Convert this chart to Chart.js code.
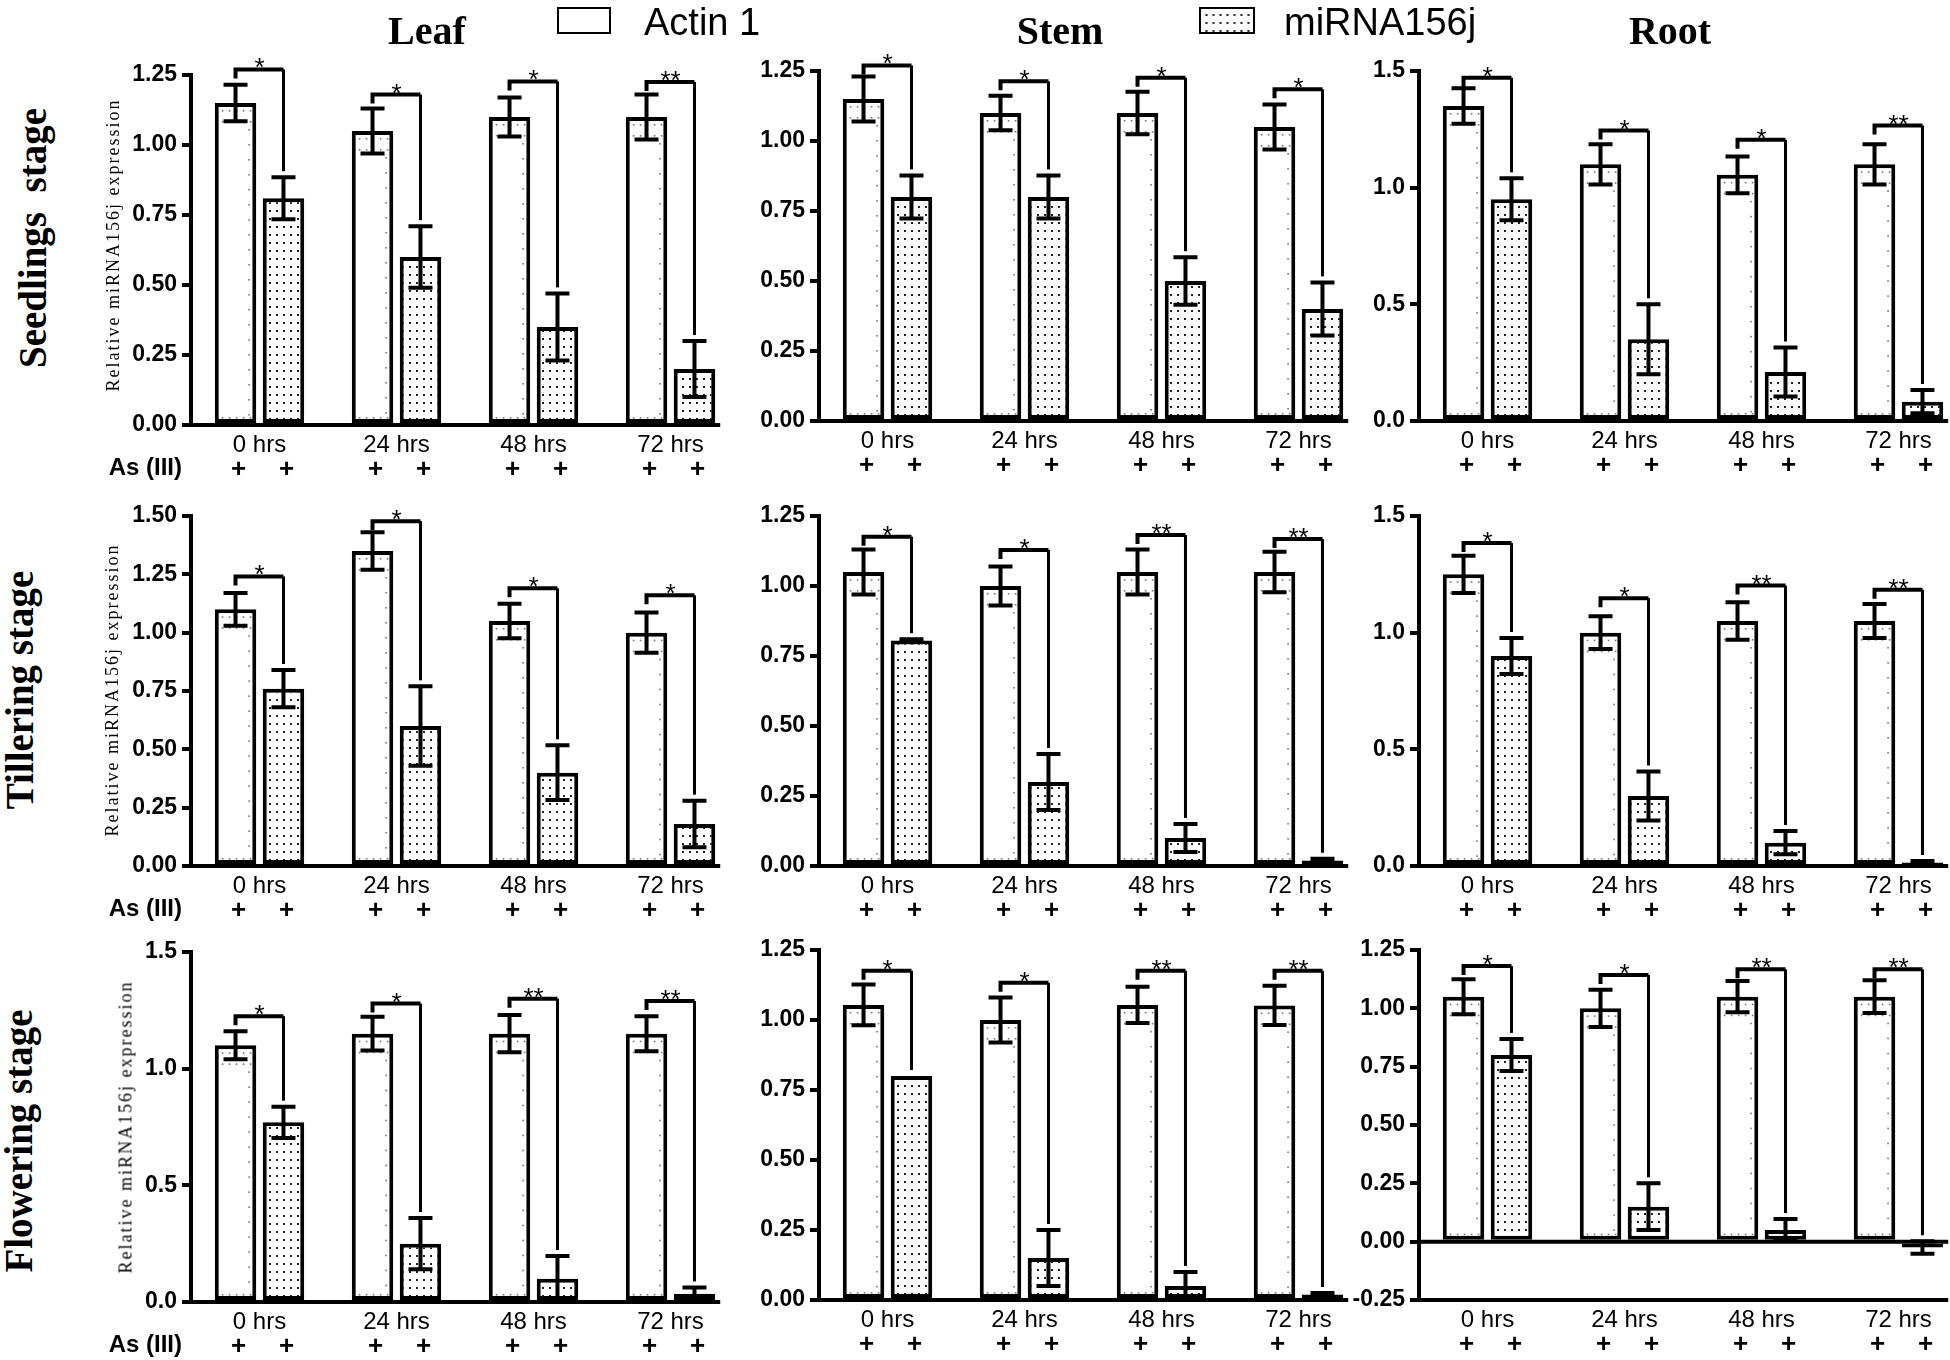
<!DOCTYPE html>
<html><head><meta charset="utf-8">
<script src="https://cdn.jsdelivr.net/npm/chart.js@4.4.1/dist/chart.umd.min.js"></script>
<style>
html,body{margin:0;padding:0;background:#fff;}
body{width:1950px;height:1360px;overflow:hidden;position:relative;}
canvas{position:absolute;}
.lbl{position:absolute;white-space:pre;line-height:1;color:#000;}
.title{font:bold 40px "Liberation Serif",serif;transform:translateX(-50%);}
.row{font:bold 39px "Liberation Serif",serif;transform:translate(-50%,-50%) rotate(-90deg);}
.ytitle{font:18px "Liberation Serif",serif;letter-spacing:2px;transform:translate(-50%,-50%) rotate(-90deg);}
.leg{font:38px "Liberation Sans",Arial,sans-serif;}
.box{position:absolute;box-sizing:border-box;border:2.5px solid #000;background:#fff;}
.dots{background-image:radial-gradient(circle,#333 1px,transparent 1.3px);background-size:7px 8px;background-position:2px 2px;}
</style></head><body>
<script>
// ---------- data ----------
const categories = ['0 hrs', '24 hrs', '48 hrs', '72 hrs'];
const seriesNames = ['Actin 1', 'miRNA156j'];
const organs = ['Leaf', 'Stem', 'Root'];
const stages = ['Seedlings  stage', 'Tillering stage', 'Flowering stage'];
const yAxisTitle = 'Relative miRNA156j expression';
const treatmentLabel = 'As (III)';
const treatmentMark = '+';

// Seedlings stage
const leafSeedActin = [1.15, 1.05, 1.10, 1.10];
const leafSeedActinErr = [0.065, 0.08, 0.07, 0.08];
const leafSeedMir = [0.81, 0.60, 0.35, 0.20];
const leafSeedMirErr = [0.075, 0.11, 0.12, 0.10];
const leafSeedBracket = [1.27, 1.18, 1.227, 1.225];
const leafSeedStars = ['*', '*', '*', '**'];

const stemSeedActin = [1.15, 1.10, 1.10, 1.05];
const stemSeedActinErr = [0.08, 0.062, 0.076, 0.08];
const stemSeedMir = [0.80, 0.80, 0.50, 0.40];
const stemSeedMirErr = [0.077, 0.077, 0.085, 0.095];
const stemSeedBracket = [1.27, 1.213, 1.226, 1.185];
const stemSeedStars = ['*', '*', '*', '*'];

const rootSeedActin = [1.35, 1.10, 1.055, 1.10];
const rootSeedActinErr = [0.076, 0.086, 0.079, 0.086];
const rootSeedMir = [0.95, 0.35, 0.21, 0.083];
const rootSeedMirErr = [0.09, 0.15, 0.105, 0.05];
const rootSeedBracket = [1.471, 1.245, 1.205, 1.266];
const rootSeedStars = ['*', '*', '*', '**'];

// Tillering stage
const leafTillActin = [1.10, 1.35, 1.05, 1.00];
const leafTillActinErr = [0.07, 0.08, 0.074, 0.086];
const leafTillMir = [0.76, 0.60, 0.40, 0.18];
const leafTillMirErr = [0.08, 0.17, 0.117, 0.10];
const leafTillBracket = [1.241, 1.478, 1.19, 1.16];
const leafTillStars = ['*', '*', '*', '*'];

const stemTillActin = [1.05, 1.00, 1.05, 1.05];
const stemTillActinErr = [0.08, 0.07, 0.08, 0.072];
const stemTillMir = [0.805, 0.30, 0.10, 0.02];
const stemTillMirErr = [0.005, 0.10, 0.05, 0.006];
const stemTillBracket = [1.176, 1.129, 1.182, 1.168];
const stemTillStars = ['*', '*', '**', '**'];

const rootTillActin = [1.25, 1.00, 1.05, 1.05];
const rootTillActinErr = [0.08, 0.07, 0.08, 0.073];
const rootTillMir = [0.90, 0.30, 0.10, 0.015];
const rootTillMirErr = [0.077, 0.105, 0.05, 0.006];
const rootTillBracket = [1.384, 1.148, 1.202, 1.184];
const rootTillStars = ['*', '*', '**', '**'];

// Flowering stage
const leafFlowActin = [1.10, 1.15, 1.15, 1.15];
const leafFlowActinErr = [0.06, 0.072, 0.08, 0.075];
const leafFlowMir = [0.77, 0.25, 0.10, 0.035];
const leafFlowMirErr = [0.067, 0.11, 0.097, 0.027];
const leafFlowBracket = [1.225, 1.279, 1.30, 1.29];
const leafFlowStars = ['*', '*', '**', '**'];

const stemFlowActin = [1.054, 1.00, 1.054, 1.052];
const stemFlowActinErr = [0.073, 0.08, 0.065, 0.07];
const stemFlowMir = [0.80, 0.15, 0.05, 0.02];
const stemFlowMirErr = [0, 0.10, 0.05, 0.005];
const stemFlowBracket = [1.176, 1.133, 1.176, 1.176];
const stemFlowStars = ['*', '*', '**', '**'];

const rootFlowActin = [1.05, 1.00, 1.05, 1.05];
const rootFlowActinErr = [0.075, 0.08, 0.067, 0.07];
const rootFlowMir = [0.80, 0.15, 0.05, -0.025];
const rootFlowMirErr = [0.069, 0.10, 0.047, 0.027];
const rootFlowBracket = [1.181, 1.143, 1.167, 1.167];
const rootFlowStars = ['*', '*', '**', '**'];

// y-axis ranges per panel: [min, max, step, decimals]
const leafSeedAxis = [0, 1.25, 0.25, 2];
const stemSeedAxis = [0, 1.25, 0.25, 2];
const rootSeedAxis = [0, 1.5, 0.5, 1];
const leafTillAxis = [0, 1.5, 0.25, 2];
const stemTillAxis = [0, 1.25, 0.25, 2];
const rootTillAxis = [0, 1.5, 0.5, 1];
const leafFlowAxis = [0, 1.5, 0.5, 1];
const stemFlowAxis = [0, 1.25, 0.25, 2];
const rootFlowAxis = [-0.25, 1.25, 0.25, 2];

// ---------- layout ----------
const YW = 100, SLOT = 137, PADT = 60, PLOTH = 350, XH = 70;
const colAxisX = [191, 819, 1419];
const panelTop = [[75, 71, 71], [516, 516, 516], [952, 950, 950]];

const panelData = [
  [[leafSeedActin, leafSeedActinErr, leafSeedMir, leafSeedMirErr, leafSeedBracket, leafSeedStars, leafSeedAxis],
   [stemSeedActin, stemSeedActinErr, stemSeedMir, stemSeedMirErr, stemSeedBracket, stemSeedStars, stemSeedAxis],
   [rootSeedActin, rootSeedActinErr, rootSeedMir, rootSeedMirErr, rootSeedBracket, rootSeedStars, rootSeedAxis]],
  [[leafTillActin, leafTillActinErr, leafTillMir, leafTillMirErr, leafTillBracket, leafTillStars, leafTillAxis],
   [stemTillActin, stemTillActinErr, stemTillMir, stemTillMirErr, stemTillBracket, stemTillStars, stemTillAxis],
   [rootTillActin, rootTillActinErr, rootTillMir, rootTillMirErr, rootTillBracket, rootTillStars, rootTillAxis]],
  [[leafFlowActin, leafFlowActinErr, leafFlowMir, leafFlowMirErr, leafFlowBracket, leafFlowStars, leafFlowAxis],
   [stemFlowActin, stemFlowActinErr, stemFlowMir, stemFlowMirErr, stemFlowBracket, stemFlowStars, stemFlowAxis],
   [rootFlowActin, rootFlowActinErr, rootFlowMir, rootFlowMirErr, rootFlowBracket, rootFlowStars, rootFlowAxis]]
];

function dotPattern() {
  const c = document.createElement('canvas');
  c.width = 7; c.height = 8;
  const g = c.getContext('2d');
  g.fillStyle = '#fff'; g.fillRect(0, 0, 7, 8);
  g.fillStyle = '#222'; g.fillRect(3, 3, 2, 2);
  return g.createPattern(c, 'repeat');
}

const decor = {
  id: 'decor',
  afterDatasetsDraw(chart) {
    const ctx = chart.ctx, ca = chart.chartArea, ys = chart.scales.y;
    const opt = chart.options.plugins.decor;
    const dsA = chart.data.datasets[0], dsM = chart.data.datasets[1];
    const mA = chart.getDatasetMeta(0).data, mM = chart.getDatasetMeta(1).data;
    ctx.save();
    // faint dotted texture of the Actin bars
    ctx.fillStyle = '#777';
    mA.forEach(b => {
      const l = b.x - b.width / 2, r = b.x + b.width / 2;
      const t = Math.min(b.y, b.base), bt = Math.max(b.y, b.base);
      for (let yy = t + 26; yy < bt - 8; yy += 15) ctx.fillRect(r - 8, yy, 1.6, 1.6);
      for (let xx = l + 7; xx < r - 5; xx += 7) {
        ctx.fillRect(xx, t + 7, 1.6, 1.6);
        ctx.fillRect(xx, t + 18, 1.6, 1.6);
        ctx.fillRect(xx, bt - 6, 1.6, 1.6);
      }
    });
    ctx.strokeStyle = '#000'; ctx.fillStyle = '#000';
    ctx.lineCap = 'butt'; ctx.lineJoin = 'miter';
    // error bars
    ctx.lineWidth = 4;
    [[mA, dsA], [mM, dsM]].forEach(([ms, ds]) => {
      ms.forEach((b, i) => {
        const e = ds.errors[i], v = ds.data[i];
        if (!e) return;
        const yt = ys.getPixelForValue(v + e), yb = ys.getPixelForValue(v - e);
        ctx.beginPath();
        ctx.moveTo(b.x, yt); ctx.lineTo(b.x, yb);
        ctx.moveTo(b.x - 12, yt); ctx.lineTo(b.x + 12, yt);
        ctx.moveTo(b.x - 12, yb); ctx.lineTo(b.x + 12, yb);
        ctx.stroke();
      });
    });
    // significance brackets
    opt.brackets.forEach((bv, i) => {
      const xa = mA[i].x, xm = mM[i].x, yb = ys.getPixelForValue(bv);
      const topM = Math.max(dsM.data[i] + dsM.errors[i], 0);
      const yr = ys.getPixelForValue(topM) - 6;
      ctx.lineWidth = 4;
      ctx.beginPath();
      ctx.moveTo(xa, yb + 9); ctx.lineTo(xa, yb); ctx.lineTo(xm, yb);
      ctx.stroke();
      ctx.lineWidth = 3;
      ctx.beginPath();
      ctx.moveTo(xm, yb); ctx.lineTo(xm, yr);
      ctx.stroke();
      ctx.font = '26px "Liberation Sans", Arial, sans-serif';
      ctx.textAlign = 'center'; ctx.textBaseline = 'alphabetic';
      ctx.fillText(opt.stars[i], (xa + xm) / 2, yb + 7);
    });
    // x axis line(s)
    const last = mM[mM.length - 1];
    const xr = last.x + last.width / 2 + 5;
    ctx.lineWidth = 4;
    ctx.beginPath();
    ctx.moveTo(ca.left - 2, ca.bottom); ctx.lineTo(xr, ca.bottom);
    if (ys.min < 0) {
      const z = ys.getPixelForValue(0);
      ctx.moveTo(ca.left, z); ctx.lineTo(xr, z);
    }
    ctx.stroke();
    // treatment row
    ctx.font = 'bold 26px "Liberation Sans", Arial, sans-serif';
    ctx.textAlign = 'center'; ctx.textBaseline = 'middle';
    [...mA, ...mM].forEach(b => ctx.fillText(treatmentMark, b.x + 3, ca.bottom + 45));
    if (opt.showAs) {
      ctx.font = 'bold 24px "Liberation Sans", Arial, sans-serif';
      ctx.textAlign = 'right';
      ctx.fillText(treatmentLabel, ca.left - 9, ca.bottom + 43);
    }
    ctx.restore();
  }
};

const pattern = dotPattern();

function makePanel(r, c) {
  const [actin, actinErr, mir, mirErr, brackets, stars, axis] = panelData[r][c];
  const [ymin, ymax, step, dec] = axis;
  const cv = document.createElement('canvas');
  cv.width = YW + 4 * SLOT;
  cv.height = PADT + PLOTH + XH;
  cv.style.left = (colAxisX[c] - YW) + 'px';
  cv.style.top = (panelTop[r][c] - PADT) + 'px';
  document.body.appendChild(cv);
  new Chart(cv, {
    type: 'bar',
    data: {
      labels: categories,
      datasets: [
        { label: seriesNames[0], data: actin, errors: actinErr, backgroundColor: '#fff',
          borderColor: '#000', borderWidth: 4, borderSkipped: false },
        { label: seriesNames[1], data: mir, errors: mirErr, backgroundColor: pattern,
          borderColor: '#000', borderWidth: 4, borderSkipped: false }
      ]
    },
    options: {
      responsive: false, animation: false, devicePixelRatio: 1,
      datasets: { bar: { categoryPercentage: 0.70, barPercentage: 0.865 } },
      layout: { padding: { top: PADT, left: 0, right: 0, bottom: 0 } },
      plugins: {
        legend: { display: false }, tooltip: { enabled: false },
        decor: { brackets: brackets, stars: stars, showAs: c === 0 }
      },
      scales: {
        x: {
          type: 'category', offset: true,
          grid: { display: false, drawTicks: false },
          border: { display: false },
          ticks: { color: '#000', padding: 6, maxRotation: 0, autoSkip: false,
                   font: { family: '"Liberation Sans", Arial, sans-serif', size: 24 } },
          afterFit: s => { s.height = XH; }
        },
        y: {
          min: ymin, max: ymax,
          ticks: { stepSize: step, color: '#000', padding: 5,
                   font: { family: '"Liberation Sans", Arial, sans-serif', size: 23, weight: 'bold' },
                   callback: v => Number(v).toFixed(dec) },
          grid: { display: true, drawOnChartArea: false, drawTicks: true, tickLength: 9,
                  tickWidth: 4, tickColor: '#000', lineWidth: 4, color: '#000' },
          border: { display: true, width: 4, color: '#000' },
          afterFit: s => { s.width = YW; }
        }
      }
    },
    plugins: [decor]
  });
}

for (let r = 0; r < 3; r++) for (let c = 0; c < 3; c++) makePanel(r, c);

// ---------- text annotations ----------
function addLabel(cls, text, css) {
  const d = document.createElement('div');
  d.className = 'lbl ' + cls;
  d.textContent = text;
  Object.assign(d.style, css);
  document.body.appendChild(d);
  return d;
}
const titleX = [427, 1060, 1670];
organs.forEach((o, i) => addLabel('title', o, { left: titleX[i] + 'px', top: '7px' }));
const rowLabelPos = [[32, 238], [19, 690], [18, 1141]];
stages.forEach((s, i) => addLabel('row', s, { left: rowLabelPos[i][0] + 'px', top: rowLabelPos[i][1] + 'px' }));
const yTitlePos = [[113, 245], [112, 690], [126, 1127]];
yTitlePos.forEach(p => addLabel('ytitle', yAxisTitle, { left: p[0] + 'px', top: p[1] + 'px' }));
// legend
const b1 = document.createElement('div'); b1.className = 'box';
Object.assign(b1.style, { left: '557px', top: '7px', width: '54px', height: '27px' });
document.body.appendChild(b1);
addLabel('leg', seriesNames[0], { left: '644px', top: '1px' });
const b2 = document.createElement('div'); b2.className = 'box dots';
Object.assign(b2.style, { left: '1199px', top: '7px', width: '56px', height: '27px' });
document.body.appendChild(b2);
addLabel('leg', seriesNames[1], { left: '1284px', top: '1px' });
</script>
</body></html>
